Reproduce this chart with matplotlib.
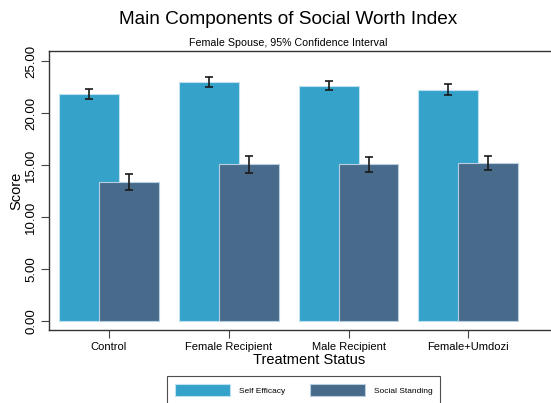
import numpy as np
import matplotlib.pyplot as plt

# Main components of social worth index, female spouse, 95% CI
groups = ['Control', 'Female Recipient', 'Male Recipient', 'Female+Umdozi']
self_efficacy = [21.85, 22.98, 22.62, 22.25]
self_eff_lo = [21.35, 22.50, 22.20, 21.70]
self_eff_hi = [22.35, 23.50, 23.05, 22.80]
social_standing = [13.35, 15.10, 15.06, 15.16]
social_lo = [12.55, 14.23, 14.30, 14.50]
social_hi = [14.10, 15.90, 15.77, 15.90]
yticks = [0, 5, 10, 15, 20, 25]

plt.rcParams['font.family'] = ['Liberation Sans', 'DejaVu Sans']

se_color = '#35a2ca'
ss_color = '#486b8c'

fig = plt.figure(figsize=(5.51, 4.03), dpi=100)
ax = fig.add_axes([49 / 551, 73 / 403, 520 / 551, 279 / 403])

x = np.arange(len(groups))
off = 1 / 6
w = 0.5

se = np.array(self_efficacy)
ss = np.array(social_standing)
se_err = [se - np.array(self_eff_lo), np.array(self_eff_hi) - se]
ss_err = [ss - np.array(social_lo), np.array(social_hi) - ss]

ax.bar(x - off, se, width=w, color=se_color, edgecolor='#bfe0ee', linewidth=0.8,
       label='Self Efficacy', zorder=2)
ax.bar(x + off, ss, width=w, color=ss_color, edgecolor='#b9cfe0', linewidth=0.8,
       label='Social Standing', zorder=3)
ax.errorbar(x - off, se, yerr=se_err, fmt='none', ecolor='#1a1a1a', elinewidth=1.2,
            capsize=3, capthick=1.2, zorder=4)
ax.errorbar(x + off, ss, yerr=ss_err, fmt='none', ecolor='#1a1a1a', elinewidth=1.2,
            capsize=3, capthick=1.2, zorder=4)

ax.set_xlim(-0.5, 3.84)
ax.set_ylim(-0.87, 25.96)
ax.set_yticks(yticks)
ax.set_yticklabels([f'{v:.2f}' for v in yticks], rotation=90, va='center', fontsize=9.5)
ax.set_xticks(x)
ax.set_xticklabels(groups, fontsize=8)
ax.tick_params(axis='both', length=5.5, width=0.8, color='#444444', pad=3)
ax.spines['right'].set_visible(False)
for s in ax.spines.values():
    s.set_color('#333333')
    s.set_linewidth(1.0)

ax.set_ylabel('Score', fontsize=10.5, labelpad=1)
ax.set_xlabel('Treatment Status', fontsize=10.5, labelpad=1)

fig.text(288 / 551, 1 - 20 / 403, 'Main Components of Social Worth Index',
         ha='center', va='center', fontsize=13.7)
fig.text(288 / 551, 1 - 43 / 403, 'Female Spouse, 95% Confidence Interval',
         ha='center', va='center', fontsize=7.7)

handles, labels = ax.get_legend_handles_labels()
leg = fig.legend(handles, labels, ncols=2, loc='upper left',
                 bbox_to_anchor=(167 / 551, 1 - 376 / 403), fontsize=6,
                 frameon=True, fancybox=False, edgecolor='#222222',
                 handlelength=6.6, handleheight=1.9, handletextpad=1.1,
                 columnspacing=2.9, borderpad=0.95, borderaxespad=0)
leg.get_frame().set_linewidth(0.8)

fig.savefig('out.png', dpi=100)
